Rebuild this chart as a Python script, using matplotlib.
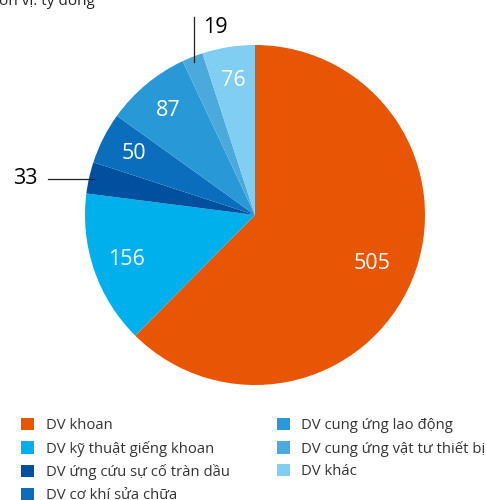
import matplotlib
matplotlib.use("Agg")
import matplotlib.pyplot as plt
import numpy as np

plt.rcParams['font.family'] = ['Open Sans', 'DejaVu Sans']

categories = ["DV khoan", "DV kỹ thuật giếng khoan", "DV ứng cứu sự cố tràn dầu",
              "DV cơ khí sửa chữa", "DV cung ứng lao động",
              "DV cung ứng vật tư thiết bị", "DV khác"]
values = [505, 156, 33, 50, 87, 19, 76]          # labels shown on the chart
shares = [62.5, 14.6, 3.0, 4.9, 8.1, 2.0, 5.0]    # slice sizes (%)
colors = ["#E85504", "#00B0EC", "#0050A0", "#0A6EBD", "#2898D6", "#4BAADB", "#80CEF2"]
unit_label = "Đơn vị: tỷ đồng"

W, H = 486, 500
fig = plt.figure(figsize=(W / 100, H / 100), dpi=100)
cx, cy, r = 255, 215, 170
ax = fig.add_axes([(cx - r) / W, 1 - (cy + r) / H, 2 * r / W, 2 * r / H])
wedges, _ = ax.pie(shares, colors=colors, startangle=90, counterclock=False,
                   radius=1.0, wedgeprops=dict(linewidth=0))
ax.set_xlim(-1, 1)
ax.set_ylim(-1, 1)
ax.set_aspect('equal')
ax.axis('off')

outside = {2: "left", 5: "up"}
for i, (w, v) in enumerate(zip(wedges, values)):
    mid = np.deg2rad((w.theta1 + w.theta2) / 2)
    if i not in outside:
        d = 0.745 if i == 0 else 0.8
        ax.text(d * np.cos(mid), d * np.sin(mid), str(v), color="white",
                fontsize=15.5, ha="center", va="center")
    elif outside[i] == "left":
        x0, y0 = 0.97 * np.cos(mid), 0.97 * np.sin(mid)
        ax.plot([x0, x0 - 0.27], [y0, y0], color="#222222", lw=0.9, clip_on=False)
        ax.text(x0 - 0.33, y0, str(v), color="black", fontsize=15.5,
                ha="right", va="center")
    else:
        x0, y0 = 0.97 * np.cos(mid), 0.97 * np.sin(mid)
        ax.plot([x0, x0], [y0, y0 + 0.26], color="#222222", lw=0.9, clip_on=False)
        ax.text(x0 + 0.05, y0 + 0.20, str(v), color="black", fontsize=15.5,
                ha="left", va="center")

fig.text(-12 / W, 1 - 5 / H, unit_label, fontsize=11, color="#222222",
         ha="left", va="baseline")

leg = fig.legend(wedges, categories, ncol=2, loc="upper left",
                 bbox_to_anchor=(21 / W, 1 - 418 / H), frameon=False,
                 fontsize=10.75, handlelength=0.87, handleheight=0.87,
                 handletextpad=0.78, labelspacing=0.5, columnspacing=3.15,
                 borderaxespad=0, borderpad=0)
for t in leg.get_texts():
    t.set_color("#333333")

fig.savefig("out.png", dpi=100)
